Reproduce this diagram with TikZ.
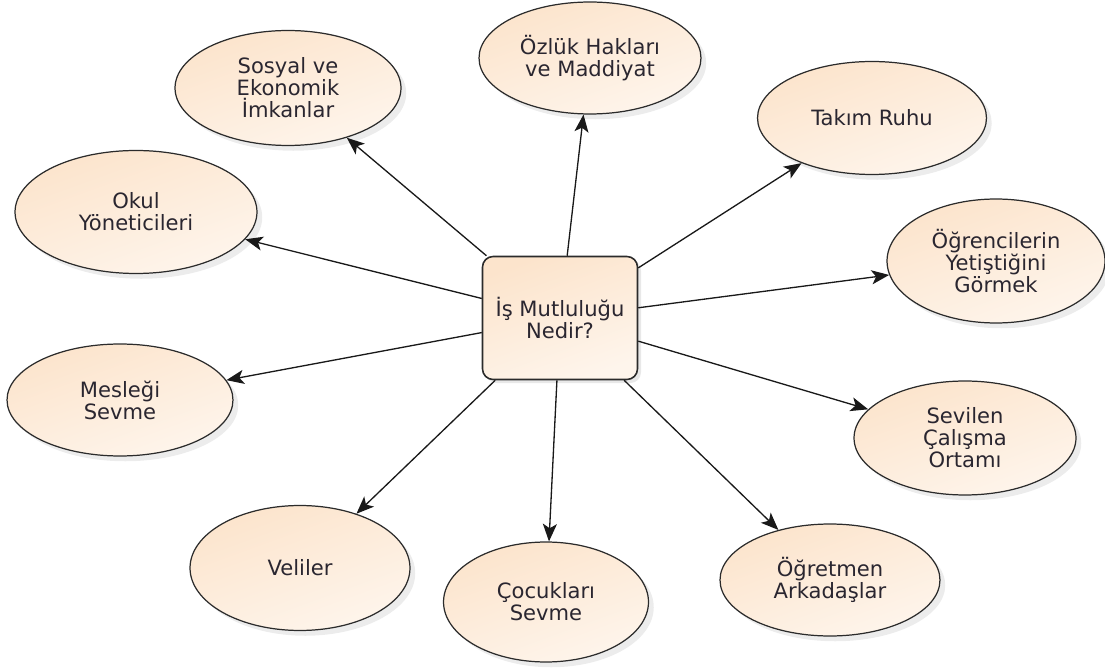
\documentclass[tikz,border=0pt]{standalone}
\usepackage{fontspec}
\setmainfont{DejaVu Sans}
\usepackage{tikz}
\usetikzlibrary{arrows.meta,shapes.geometric,shadows}
\usepackage{xcolor}
\definecolor{seftali}{HTML}{FCE4CC}
\definecolor{seftaliacik}{HTML}{FEF5EC}
\definecolor{kenar}{HTML}{2B2B2B}
\definecolor{yazi}{HTML}{2A2630}

\begin{document}
\begin{tikzpicture}[
    x=0.02cm, y=-0.02cm,
    konunode/.style={draw=kenar, line width=0.9pt, rounded corners=6pt, top color=seftali, bottom color=seftaliacik, shading angle=20, font=\fontsize{12}{12.5}\selectfont, text=yazi, align=center, inner sep=2pt, minimum width=3.10cm, minimum height=2.46cm, drop shadow={shadow xshift=2pt, shadow yshift=-2pt, opacity=0.18}},
    fikirnode/.style={ellipse, draw=kenar, line width=0.7pt, top color=seftali, bottom color=seftaliacik, shading angle=20, font=\fontsize{12}{12.5}\selectfont, text=yazi, align=center, inner sep=0pt, drop shadow={shadow xshift=3pt, shadow yshift=-3pt, opacity=0.15}},
    ok/.style={draw=black!90, line width=0.75pt, -{Stealth[length=10pt, width=8pt, inset=2.5pt]}}
]

    % Sayfa sinirlari
    \useasboundingbox (0,0) rectangle (1105,668);

    % Merkez: ana soru
    \node[konunode] (merkez) at (560,318) {İş Mutluluğu\\Nedir?};

    % Ust taraf
    \node[fikirnode, minimum width=4.52cm, minimum height=2.30cm] (sosyal) at (288,88) {Sosyal ve\\Ekonomik\\İmkanlar};
    \node[fikirnode, minimum width=4.44cm, minimum height=2.24cm] (ozluk) at (590,58) {Özlük Hakları\\ve Maddiyat};
    \node[fikirnode, minimum width=4.58cm, minimum height=2.26cm] (takim) at (872,118) {Takım Ruhu};

    % Sol taraf
    \node[fikirnode, minimum width=4.84cm, minimum height=2.46cm] (okul) at (136,212) {Okul\\Yöneticileri};
    \node[fikirnode, minimum width=4.52cm, minimum height=2.24cm] (meslek) at (120,400) {Mesleği\\Sevme};

    % Sag taraf
    \node[fikirnode, minimum width=4.36cm, minimum height=2.48cm] (ogrenci) at (996,261) {Öğrencilerin\\Yetiştiğini\\Görmek};
    \node[fikirnode, minimum width=4.44cm, minimum height=2.28cm] (sevilen) at (965,438) {Sevilen\\Çalışma\\Ortamı};

    % Alt taraf
    \node[fikirnode, minimum width=4.40cm, minimum height=2.50cm] (veli) at (300,568) {Veliler};
    \node[fikirnode, minimum width=4.10cm, minimum height=2.40cm] (cocuk) at (546,602) {Çocukları\\Sevme};
    \node[fikirnode, minimum width=4.40cm, minimum height=2.24cm] (ogretmen) at (830,580) {Öğretmen\\Arkadaşlar};

    % Merkezden disari oklar
    \foreach \n in {sosyal, ozluk, takim, okul, meslek, ogrenci, sevilen, veli, cocuk, ogretmen} {
        \draw[ok] (merkez) -- (\n);
    }

\end{tikzpicture}
\end{document}
